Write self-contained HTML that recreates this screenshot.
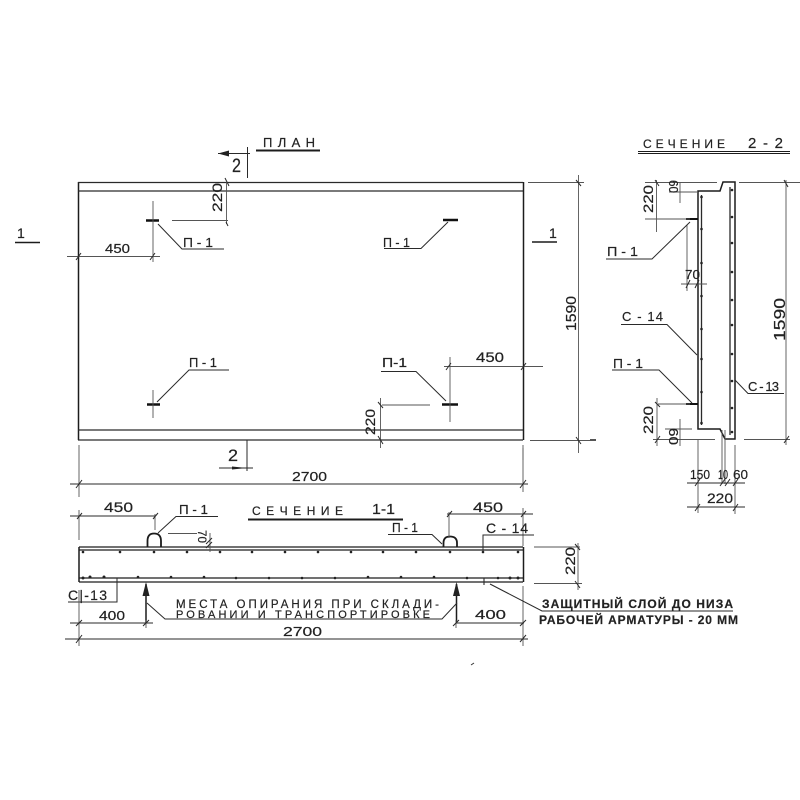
<!DOCTYPE html>
<html><head><meta charset="utf-8"><style>
html,body{margin:0;padding:0;background:#fff}
svg{display:block;filter:blur(.35px)}
text{font-family:"Liberation Sans",sans-serif;fill:#222;stroke:#222;stroke-width:.2}
.l{stroke:#2a2a2a;stroke-width:1;fill:none}
.g{stroke:#555;stroke-width:.9;fill:none}
.b{stroke:#1c1c1c;stroke-width:1.5;fill:none}
.h{stroke:#111;stroke-width:2.4;fill:none}
.r{fill:#222}
</style></head><body>
<svg width="800" height="800" viewBox="0 0 800 800" xmlns="http://www.w3.org/2000/svg">
<rect width="800" height="800" fill="#fff"/>
<!-- PLAN -->
<path class="b" d="M78.5 182V440"/><path class="b" d="M523.500 182V440"/>
<path class="l" d="M78 182.500H523M78 191H523M78 430H523M78 440H523" style="stroke-width:1.200"/>
<text x="263" y="147" textLength="52" font-size="13">ПЛАН</text>
<path class="b" d="M256 150.500H320" style="stroke-width:2"/>
<path class="l" d="M218 153.500H250M247.500 147V178"/><path class="r" d="M218 153.500L229 150.500V156.500Z"/>
<text x="232" y="172" font-size="19" textLength="9" lengthAdjust="spacingAndGlyphs">2</text>
<text x="228" y="461" font-size="17" textLength="10" lengthAdjust="spacingAndGlyphs">2</text>
<path class="l" d="M219 468H253M247 440V471"/><path class="r" d="M247 468L232 466.500V469.500Z"/>
<text x="17" y="238" font-size="14">1</text><path class="b" d="M15 242.500H40"/>
<text x="549" y="238" font-size="14">1</text><path class="b" d="M532 242H557"/>
<!-- plan anchors -->
<path class="h" d="M146 220.500H159M443 220H458M147 404.500H160M442 404.500H458"/>
<path class="g" d="M153 201V262M153 390V418M450 357V422"/>
<path class="l" d="M158 224L182 249H224"/><text x="183" y="247" font-size="13" textLength="30" lengthAdjust="spacingAndGlyphs">П - 1</text>
<path class="l" d="M157 402L189 370H229"/><text x="189" y="367" font-size="13" textLength="28" lengthAdjust="spacingAndGlyphs">П - 1</text>
<path class="l" d="M448 222L421 248.500H384"/><text x="383" y="247" font-size="13" textLength="27" lengthAdjust="spacingAndGlyphs">П - 1</text>
<path class="l" d="M446 401L416 371.500H381"/><text x="382" y="367" font-size="13" textLength="25" lengthAdjust="spacingAndGlyphs">П-1</text>
<path class="g" d="M172 220.500H228M226.500 182V224M67 256.500H160M382 405H430M380.500 398V448M444 366.500H543"/>
<path class="l" d="M225 178L229 186M226 222L228 226M76 260L81 253M150 260L155 253M378 402L383 408M378 436L383 444M446 370L451 363M521 370L526 363"/>
<text x="105" y="253" font-size="13" textLength="25" lengthAdjust="spacingAndGlyphs">450</text>
<text x="476" y="362" font-size="14" textLength="28" lengthAdjust="spacingAndGlyphs">450</text>
<text transform="translate(222,212) rotate(-90)" font-size="14" textLength="29" lengthAdjust="spacingAndGlyphs">220</text>
<text transform="translate(375,435) rotate(-90)" font-size="14" textLength="26" lengthAdjust="spacingAndGlyphs">220</text>
<!-- 1590 dim -->
<path class="g" d="M528 182.500H584M530 440.500H596M578.500 175V453M523 448V460"/>
<path class="l" d="M576 180L581 186M576 437L581 444"/>
<text transform="translate(576,331) rotate(-90)" font-size="15" textLength="35" lengthAdjust="spacingAndGlyphs">1590</text>
<!-- 2700 top -->
<path class="l" d="M70 484H528"/><path class="g" d="M79 445V497M523 445V492"/>
<path class="l" d="M76 488L82 480M520 488L526 480"/>
<text x="292" y="481" font-size="13" textLength="35" lengthAdjust="spacingAndGlyphs">2700</text>
<!-- SECTION 1-1 -->
<text x="252" y="515" textLength="91" font-size="12">СЕЧЕНИЕ</text>
<text x="372" y="514" font-size="15" textLength="23" lengthAdjust="spacingAndGlyphs">1-1</text>
<path class="b" d="M248 519.500H403" style="stroke-width:2"/>
<path class="b" d="M79 547H523M79 550H523" style="stroke-width:1.300"/>
<path class="b" d="M79 578H523M79 582H523" style="stroke-width:1.300"/>
<path class="b" d="M79 547V582M523.500 547V582"/>
<path class="b" d="M147.500 547V541Q147.500 533.500 154 533.500Q161 533.500 161 541V547M443.500 547V543Q443.500 536.500 450 536.500Q457 536.500 457 543V547" style="stroke-width:1.800"/>
<g class="r">
<circle cx="83" cy="552" r="1.300"/><circle cx="120" cy="552" r="1.300"/><circle cx="154" cy="552" r="1.300"/><circle cx="187" cy="552" r="1.300"/><circle cx="220" cy="552" r="1.300"/><circle cx="252" cy="552" r="1.300"/><circle cx="285" cy="552" r="1.300"/><circle cx="318" cy="552" r="1.300"/><circle cx="351" cy="552" r="1.300"/><circle cx="383" cy="552" r="1.300"/><circle cx="416" cy="552" r="1.300"/><circle cx="450" cy="552" r="1.300"/><circle cx="483" cy="552" r="1.300"/><circle cx="518" cy="552" r="1.300"/>
<circle cx="83" cy="578" r="1.500"/><circle cx="90" cy="577" r="1.500"/><circle cx="104" cy="577" r="1.500"/><circle cx="138" cy="577" r="1.300"/><circle cx="171" cy="577" r="1.300"/><circle cx="204" cy="577" r="1.300"/><circle cx="236" cy="578" r="1.300"/><circle cx="269" cy="578" r="1.300"/><circle cx="302" cy="578" r="1.300"/><circle cx="335" cy="578" r="1.300"/><circle cx="368" cy="577" r="1.300"/><circle cx="401" cy="577" r="1.300"/><circle cx="434" cy="577" r="1.300"/><circle cx="467" cy="578" r="1.300"/><circle cx="498" cy="578" r="1.300"/><circle cx="510" cy="578" r="1.500"/><circle cx="518" cy="578" r="1.500"/>
</g>
<!-- 450 dims lower -->
<path class="l" d="M70 516H155M447 514H533"/><path class="g" d="M79 510V540M155 514V530M449 512V538M523 508V546"/>
<path class="l" d="M77 519L82 513M153 519L158 513M447 517L452 511M521 517L526 511"/>
<text x="104" y="512" font-size="14" textLength="29" lengthAdjust="spacingAndGlyphs">450</text><text x="473" y="512" font-size="14" textLength="30" lengthAdjust="spacingAndGlyphs">450</text>
<path class="l" d="M158 533L176 516.500H218"/><text x="179" y="514" font-size="13" textLength="29" lengthAdjust="spacingAndGlyphs">П - 1</text>
<path class="l" d="M442 544L432 534.500H388"/><text x="392" y="532" font-size="13" textLength="26" lengthAdjust="spacingAndGlyphs">П - 1</text>
<path class="g" d="M168 533.500H197M210 533V552"/>
<path class="l" d="M206 544L212 538M206 548L212 542"/>
<text transform="translate(198,530) rotate(90)" font-size="12" textLength="13" lengthAdjust="spacingAndGlyphs">70</text>
<path class="l" d="M483 552V535H534"/><text x="486" y="533" font-size="14" textLength="42">С - 14</text>
<!-- 220 right of section 1-1 -->
<path class="g" d="M534 547H580M534 583.500H582M578 543V590"/>
<path class="l" d="M575 544L580 550M575 581L580 588"/>
<text transform="translate(575,575) rotate(-90)" font-size="14" textLength="28" lengthAdjust="spacingAndGlyphs">220</text>
<!-- C-13 -->
<path class="l" d="M117 578V602H68"/><text x="68" y="600" font-size="14" textLength="39">С|-13</text>
<!-- supports -->
<path class="b" d="M146 584V623M456.500 584V622"/>
<path class="r" d="M146 582L142.500 596H149.500ZM456.500 582L453 596H460Z"/>
<path class="l" d="M147 603L165 619H442L457 603"/>
<text x="176" y="608" textLength="263" font-size="11.500">МЕСТА ОПИРАНИЯ ПРИ СКЛАДИ-</text>
<text x="176" y="618" textLength="254" font-size="11">РОВАНИИ И ТРАНСПОРТИРОВКЕ</text>
<path class="l" d="M70 623H153M456 623H524"/><path class="g" d="M79 590V646M523 586V646M146 620V628M456 620V628"/>
<path class="l" d="M76 626L82 620M143 626L149 620M453 626L459 620M520 626L526 620"/>
<text x="99" y="620" font-size="13" textLength="26" lengthAdjust="spacingAndGlyphs">400</text><text x="475" y="619" font-size="13" textLength="31" lengthAdjust="spacingAndGlyphs">400</text>
<path class="l" d="M65 639H528"/><path class="l" d="M76 643L82 635M520 642L526 635"/>
<text x="283" y="636" font-size="13" textLength="39" lengthAdjust="spacingAndGlyphs">2700</text>
<!-- protective layer -->
<path class="l" d="M484 578V585M490 584L542 611H733" style="stroke-width:1.100"/>
<text x="542" y="608" textLength="191" font-size="12" font-weight="bold">ЗАЩИТНЫЙ СЛОЙ ДО НИЗА</text>
<text x="539" y="624" textLength="199" font-size="12" font-weight="bold">РАБОЧЕЙ АРМАТУРЫ - 20 ММ</text>
<path d="M471 665L474 663" stroke="#333" stroke-width="1"/>
<!-- SECTION 2-2 -->
<text x="643" y="148" textLength="82" font-size="12">СЕЧЕНИЕ</text>
<text x="748" y="148" font-size="15" textLength="35">2 - 2</text>
<path class="b" d="M638 151.500H790M638 153.500H790" style="stroke-width:1.100"/>
<path class="b" d="M698 429V191H720L723 182H735V439H725L720 429Z"/>
<path class="l" d="M701.500 195V425M730 187V435" style="stroke-width:1.300"/>
<g class="r">
<circle cx="701.500" cy="197" r="1.300"/><circle cx="701.500" cy="229" r="1.300"/><circle cx="701.500" cy="263" r="1.300"/><circle cx="701.500" cy="296" r="1.300"/><circle cx="701.500" cy="329" r="1.300"/><circle cx="701.500" cy="359" r="1.300"/><circle cx="701.500" cy="392" r="1.300"/><circle cx="701.500" cy="423" r="1.300"/>
<circle cx="732" cy="190" r="1.300"/><circle cx="732" cy="217" r="1.300"/><circle cx="732" cy="243" r="1.300"/><circle cx="732" cy="272" r="1.300"/><circle cx="732" cy="300" r="1.300"/><circle cx="732" cy="325" r="1.300"/><circle cx="732" cy="354" r="1.300"/><circle cx="732" cy="381" r="1.300"/><circle cx="732" cy="408" r="1.300"/><circle cx="732" cy="432" r="1.300"/>
</g>
<path class="h" d="M686 219H698M686 404H698" style="stroke-width:2"/>
<path class="g" d="M645 182.500H717M739 182.500H800M653 439.500H715M744 439.500H790M786 180V445M590 439.500H596"/>
<path class="g" d="M645 219H690M656.500 180V232M657 398V446M658 404H690M669 192H698M665 429H692M680 182V203M680 419V446"/>
<path class="l" d="M655 180L659 186M784 180L788 187M655 402L660 407M655 443L660 436M784 443L789 436"/>
<text transform="translate(653,213) rotate(-90)" font-size="14" textLength="28" lengthAdjust="spacingAndGlyphs">220</text>
<text transform="translate(653,434) rotate(-90)" font-size="14" textLength="28" lengthAdjust="spacingAndGlyphs">220</text>
<text transform="translate(669,180) rotate(90)" font-size="13" textLength="13" lengthAdjust="spacingAndGlyphs">60</text>
<text transform="translate(669,428) rotate(90)" font-size="13" textLength="17" lengthAdjust="spacingAndGlyphs">60</text>
<text transform="translate(785,341) rotate(-90)" font-size="16" textLength="43" lengthAdjust="spacingAndGlyphs">1590</text>
<!-- 70 -->
<path class="g" d="M687 225V291M681 284H707"/><path class="l" d="M686 288L690 280M695 288L699 280"/>
<text x="685" y="279" font-size="13" textLength="15" lengthAdjust="spacingAndGlyphs">70</text>
<!-- leaders -->
<path class="l" d="M690 222L652 259H606"/><text x="607" y="256" font-size="13" textLength="31" lengthAdjust="spacingAndGlyphs">П - 1</text>
<path class="l" d="M697 355L667 324.500H621"/><text x="622" y="321" font-size="13" textLength="41">С - 14</text>
<path class="l" d="M692 403L659 370H612"/><text x="613" y="368" font-size="13" textLength="30" lengthAdjust="spacingAndGlyphs">П - 1</text>
<path class="l" d="M735 380L748 393.500H784"/><text x="748" y="391" font-size="13" textLength="31">С - 13</text>
<!-- bottom dims -->
<path class="g" d="M698 440V513M722 430V484M725 430V484M735 445V514"/>
<path class="l" d="M687 483H745M687 507H745"/>
<path class="l" d="M695 486L700 479M720 486L725 479M725 486L730 479M733 486L738 479M695 511L700 504M733 511L738 504"/>
<text x="690" y="479" font-size="13" textLength="20" lengthAdjust="spacingAndGlyphs">150</text><text x="718" y="479" font-size="13" textLength="10" lengthAdjust="spacingAndGlyphs">10</text><text x="733" y="479" font-size="13" textLength="15" lengthAdjust="spacingAndGlyphs">60</text>
<text x="707" y="503" font-size="14" textLength="26" lengthAdjust="spacingAndGlyphs">220</text>
</svg>
</body></html>
